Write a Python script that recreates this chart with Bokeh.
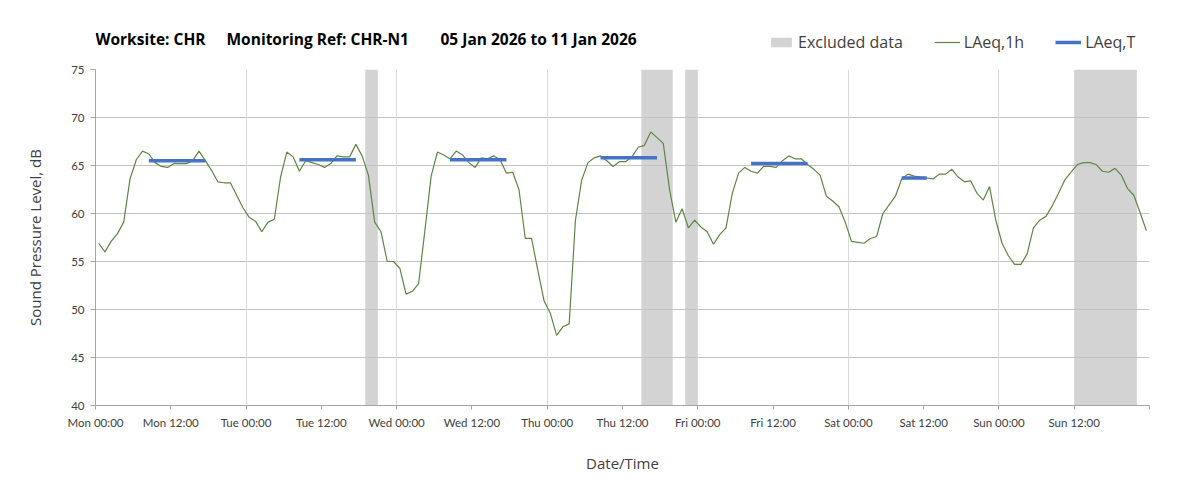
from bokeh.plotting import figure
from bokeh.models import (FixedTicker, Range1d, Legend, LegendItem, Label, Grid,
                          ColumnDataSource)
from bokeh.layouts import column
from bokeh.embed import file_html
from bokeh.resources import INLINE
import numpy as np

# ---------------- data ----------------
# Hourly LAeq,1h values, Mon 05 Jan 2026 00:00 .. Sun 11 Jan 2026 23:00 (168 hours)
laeq_1h = [
    56.9, 56.0, 57.1, 57.9, 59.1, 63.6, 65.6, 66.5, 66.2, 65.3, 64.9, 64.8,
    65.2, 65.2, 65.2, 65.5, 66.5, 65.5, 64.5, 63.3, 63.2, 63.2, 61.9, 60.6,
    59.6, 59.2, 58.1, 59.1, 59.4, 63.8, 66.4, 65.9, 64.4, 65.5, 65.3, 65.1,
    64.8, 65.2, 66.0, 65.9, 65.9, 67.2, 66.0, 64.0, 59.1, 58.1, 55.0, 55.0,
    54.3, 51.6, 51.9, 52.7, 58.2, 63.9, 66.4, 66.1, 65.7, 66.5, 66.1, 65.3,
    64.8, 65.8, 65.7, 66.0, 65.6, 64.2, 64.3, 62.5, 57.4, 57.4, 54.1, 50.9,
    49.6, 47.3, 48.2, 48.5, 59.3, 63.5, 65.3, 65.8, 66.0, 65.5, 64.9, 65.4,
    65.4, 65.9, 66.9, 67.1, 68.5, 67.9, 67.3, 62.5, 59.1, 60.5, 58.5, 59.3,
    58.6, 58.1, 56.8, 57.8, 58.5, 62.1, 64.2, 64.8, 64.4, 64.2, 64.9, 64.9,
    64.8, 65.5, 66.0, 65.7, 65.7, 65.1, 64.6, 64.0, 61.8, 61.3, 60.7, 59.1,
    57.1, 57.0, 56.9, 57.4, 57.6, 60.0, 60.9, 61.8, 63.6, 64.1, 63.9, 63.8,
    63.7, 63.6, 64.1, 64.1, 64.6, 63.8, 63.3, 63.4, 62.1, 61.4, 62.8, 59.3,
    56.9, 55.6, 54.7, 54.7, 55.8, 58.5, 59.3, 59.7, 60.8, 62.1, 63.5, 64.3,
    65.1, 65.3, 65.3, 65.1, 64.4, 64.3, 64.7, 64.0, 62.6, 61.9, 60.1, 58.2,
]

# LAeq,T daytime periods (start hour index, end hour index, level)
laeq_t_start = [8, 32, 56, 80, 104, 128]
laeq_t_end = [17, 41, 65, 89, 113, 132]
laeq_t_value = [65.5, 65.6, 65.6, 65.8, 65.2, 63.7]

# Excluded data periods (hours from Mon 00:00)
excl_start = [43, 87, 94, 156]
excl_end = [45, 92, 96, 166]

tick_hours = list(range(0, 169, 12))
tick_labels = ["Mon 00:00", "Mon 12:00", "Tue 00:00", "Tue 12:00", "Wed 00:00",
               "Wed 12:00", "Thu 00:00", "Thu 12:00", "Fri 00:00", "Fri 12:00",
               "Sat 00:00", "Sat 12:00", "Sun 00:00", "Sun 12:00", ""]
y_ticks = [40, 45, 50, 55, 60, 65, 70, 75]

title_parts = ["Worksite: CHR", "Monitoring Ref: CHR-N1", "05 Jan 2026 to 11 Jan 2026"]
legend_labels = ["Excluded data", "LAeq,1h", "LAeq,T"]

# ---------------- styling ----------------
FONT = "Lato"
FONT2 = "Open Sans"
TXT = "#404040"
GREEN = "#5f8544"
BLUE = "#4472c4"
GREY_BOX = "#d3d3d3"
W = 1195
HEAD_H = 60
LEFT = 95
RIGHT = W - 1149

# ---------------- header (title + legend) ----------------
head = figure(width=W, height=HEAD_H, output_backend="svg", toolbar_location=None,
              x_range=Range1d(LEFT, 1149), y_range=Range1d(0, HEAD_H),
              x_axis_type=None, y_axis_type=None,
              min_border_left=LEFT, min_border_right=RIGHT,
              min_border_top=0, min_border_bottom=0)
head.outline_line_color = None
head.xgrid.visible = False
head.ygrid.visible = False

for txt, sx in zip(title_parts, [95, 226, 440]):
    head.add_layout(Label(x=sx, y=HEAD_H - 38, text=txt,
                          text_font=FONT2, text_font_size="15.5px", text_font_style="bold",
                          text_color="black", text_baseline="middle", text_align="left"))

# legend proxies (drawn outside the visible range)
h_excl = head.quad(left=[0], right=[1], bottom=[0], top=[1], fill_color=GREY_BOX, line_color=None)
h_1h = head.line(x=[0, 1], y=[0, 0], line_color=GREEN, line_width=1.2)
h_t = head.line(x=[0, 1], y=[0, 0], line_color=BLUE, line_width=3.5)

legend = Legend(items=[LegendItem(label=legend_labels[0], renderers=[h_excl]),
                       LegendItem(label=legend_labels[1], renderers=[h_1h]),
                       LegendItem(label=legend_labels[2], renderers=[h_t])],
                orientation="horizontal", location=(768 - LEFT, HEAD_H - 53),
                label_text_font=FONT2, label_text_font_size="16px", label_text_color=TXT,
                glyph_width=26, glyph_height=12, label_standoff=4, spacing=31,
                padding=0, margin=0, border_line_alpha=0, background_fill_alpha=0)
head.add_layout(legend)

# ---------------- main chart ----------------
p = figure(width=W, height=430, output_backend="svg", toolbar_location=None,
           x_range=Range1d(0, 168), y_range=Range1d(40, 75),
           min_border_left=LEFT, min_border_right=RIGHT, min_border_top=9,
           min_border_bottom=85)
p.outline_line_color = None
p.xgrid.visible = False
p.ygrid.visible = False

hgrid = Grid(dimension=1, ticker=FixedTicker(ticks=y_ticks), grid_line_color="#c4c4c4",
             grid_line_width=1)
vgrid = Grid(dimension=0, ticker=FixedTicker(ticks=list(range(24, 168, 24))),
             grid_line_color="#dadada", grid_line_width=1)
p.add_layout(hgrid)
p.add_layout(vgrid)

excl_src = ColumnDataSource(dict(left=excl_start, right=excl_end,
                                 bottom=[40] * len(excl_start), top=[75] * len(excl_start)))
p.quad(left="left", right="right", bottom="bottom", top="top", source=excl_src,
       fill_color=GREY_BOX, line_color=None, level="image")

hours = np.arange(len(laeq_1h)) + 0.5
p.line(hours, laeq_1h, line_color=GREEN, line_width=1.2)

for s, e, v in zip(laeq_t_start, laeq_t_end, laeq_t_value):
    p.line([s + 0.5, e + 0.5], [v, v], line_color=BLUE, line_width=3.5)

xa = p.xaxis[0]
xa.ticker = FixedTicker(ticks=tick_hours)
xa.major_label_overrides = {h: l for h, l in zip(tick_hours, tick_labels)}
xa.minor_tick_line_color = None
xa.major_tick_in = 0
xa.major_tick_out = 4
xa.axis_line_color = "#a6a6a6"
xa.major_tick_line_color = "#a6a6a6"
xa.major_label_text_font = FONT
xa.major_label_text_font_size = "11.5px"
xa.major_label_text_color = TXT
xa.major_label_standoff = 6
xa.axis_label = "Date/Time"
xa.axis_label_text_font = FONT2
xa.axis_label_text_font_size = "15px"
xa.axis_label_text_font_style = "normal"
xa.axis_label_text_color = TXT
xa.axis_label_standoff = 21

ya = p.yaxis[0]
ya.ticker = FixedTicker(ticks=y_ticks)
ya.minor_tick_line_color = None
ya.major_tick_in = 0
ya.major_tick_out = 5
ya.axis_line_color = "#a6a6a6"
ya.major_tick_line_color = "#a6a6a6"
ya.major_label_text_font = FONT
ya.major_label_text_font_size = "11.5px"
ya.major_label_text_color = TXT
ya.major_label_standoff = 6
ya.axis_label = "Sound Pressure Level, dB"
ya.axis_label_text_font = FONT2
ya.axis_label_text_font_size = "15px"
ya.axis_label_text_font_style = "normal"
ya.axis_label_text_color = TXT
ya.axis_label_standoff = 23

layout = column(head, p, spacing=0)
open("out.html", "w").write(file_html(layout, INLINE))
